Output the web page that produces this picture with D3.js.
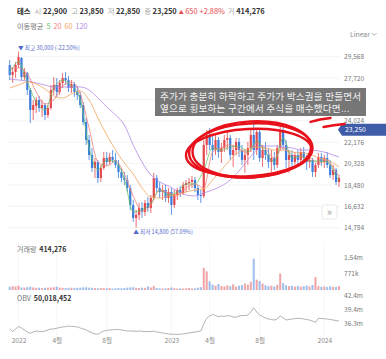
<!DOCTYPE html>
<html><head><meta charset="utf-8">
<script src="https://cdn.jsdelivr.net/npm/d3@7/dist/d3.min.js"></script>
<style>
body{margin:0;background:#fff;}
svg text{font-family:"Noto Sans CJK KR","Noto Sans",sans-serif;}
</style></head>
<body><svg id="chart" width="386" height="359"></svg>
<script>
// ---------- DATA (weekly candles) ----------
const firstWeek = '2021-12-13';
const lastWeek = '2024-02-05';
const openP = [28850,27990,28250,28850,29460,27810,28160,26690,24960,25310,25830,25130,25390,24530,25130,26690,27120,26520,27300,27730,27550,26860,27210,26520,26260,25390,23920,22370,21070,19950,20470,19080,19950,20810,20470,20900,20640,20210,19600,19080,18910,18220,16750,15630,15890,16490,16150,16920,16490,17350,19080,18220,17870,18050,17350,17870,16750,17610,18050,17790,18480,18650,18740,18910,18220,17610,17530,21940,22800,21940,21500,22370,21330,21680,22370,22540,21070,21500,22200,21500,20640,21070,21680,22800,21500,23060,20810,21500,21070,20470,20810,20210,21680,23230,21940,20640,21070,20470,21070,20640,21330,20810,20470,20640,19600,20210,20900,20470,20810,20210,19340,19780,18740];
const highP = [29280,28590,29110,30000,29540,28590,28250,26860,25830,26090,26170,25830,25570,25390,27120,27810,27730,27550,28160,28250,27900,27550,27380,27040,26520,25650,24270,22800,21680,20810,20640,20210,21330,21330,21250,21500,21250,20640,19950,19600,19340,18480,17180,16320,16920,17010,17180,17440,17610,19520,19340,18740,18480,18480,18220,18220,18050,18220,18390,18740,18910,19080,19260,19170,18480,18050,22370,23230,23410,22800,22970,22630,22110,22800,23060,22800,21940,22540,22540,21940,21500,22200,23230,23920,23410,23410,21940,22200,21680,21500,21330,21940,23670,23670,22370,21500,21500,21330,21500,21680,21760,21070,20900,20810,20380,21250,21250,21070,21330,20640,20210,19950,19340];
const lowP = [27550,27300,27730,28590,27550,27550,26260,23840,24100,24700,24790,24360,24100,24270,24960,26260,26090,26260,26860,27120,26520,26430,26090,25830,25130,23670,21940,20640,19600,19080,18650,18740,19780,20120,20210,20380,19950,19080,18740,18480,17870,16320,15280,14800,15450,15630,15800,16150,16060,17180,17870,17350,17180,17010,16920,15890,16490,17180,17440,17610,17870,18050,18220,17870,17180,16920,17350,21070,21500,20640,21070,20810,20380,21330,21500,20640,20040,21070,20900,20210,19520,20210,21330,20640,21070,20470,20040,20640,19950,19600,19780,19950,21500,21500,19950,19520,20040,20210,20120,20210,20470,19780,19950,19170,19170,19950,20120,19950,19950,19080,18910,18480,18310];
const closeP = [27990,28250,28850,29540,27810,28250,26690,24960,25390,25830,25130,25390,24530,25130,26690,27120,26520,27300,27730,27550,26860,27210,26520,26260,25390,23920,22370,21070,19950,20470,19080,19950,20810,20470,20900,20640,20210,19600,19080,18910,18220,16750,15630,15890,16490,16150,16920,16490,17350,19080,18220,17870,18050,17350,17870,16750,17610,18050,17790,18480,18650,18740,18910,18220,17610,17530,21940,22800,21940,21500,22370,21330,21680,22370,22540,21070,21500,22200,21500,20640,21070,21680,22800,21500,23060,20810,21500,21070,20470,20810,20210,21680,23230,21940,20640,21070,20470,21070,20640,21330,20810,20470,20640,19600,20210,20900,20470,20810,20210,19340,19780,18740,19080];
const volumeK = [150,180,160,200,120,110,130,150,120,100,110,90,100,110,120,130,150,110,100,90,100,110,90,100,110,120,130,110,100,90,80,100,90,80,90,70,80,90,80,90,110,120,130,100,90,110,100,170,120,180,90,80,70,80,90,120,80,70,80,70,80,90,70,80,110,130,1030,870,400,250,200,280,180,160,220,180,260,160,200,230,300,250,380,1460,480,420,300,220,180,200,160,240,770,320,220,180,200,160,190,150,180,200,160,230,600,180,150,160,140,170,150,140,180];
const obvM = [35.18,34.65,35.18,35.71,35.39,34.97,34.54,34.27,34.54,34.75,34.65,34.60,34.75,34.97,35.18,35.18,35.33,35.49,35.60,35.66,35.81,35.71,35.71,35.60,35.39,35.18,34.97,34.65,34.33,34.12,34.05,34.43,34.75,34.86,34.97,35.01,35.07,35.07,34.97,34.86,34.75,34.75,34.75,34.65,34.75,34.69,34.60,34.65,34.60,34.75,34.54,34.43,34.33,34.22,34.12,34.05,34.05,34.01,34.05,34.12,34.22,34.33,34.43,34.54,34.65,34.75,36.24,37.44,37.93,38.25,38.04,37.78,37.93,37.83,38.04,37.93,37.72,37.66,37.93,38.04,38.04,38.14,38.78,39.69,38.78,38.14,37.83,37.51,37.30,37.19,37.08,37.30,38.00,37.51,37.08,37.19,37.30,37.40,37.44,37.40,37.30,37.19,37.08,36.87,36.60,37.44,37.40,37.36,37.30,37.19,37.08,36.98,36.87];
// moving averages, read every third week
const ma5 = [28250,29110,27380,25650,24960,26860,27550,27040,25830,21680,19780,20640,20470,19000,16150,16320,16920,18050,17610,17870,18570,18570,19780,21680,21500,21760,21850,21330,22280,21330,20470,22540,20810,20990,20550,20550,20470,19260,18910];
const ma20 = [28590,28590,28070,26520,25480,25830,27040,27380,26340,23410,20470,20120,20550,19430,17530,16230,16750,18050,17790,17610,18220,18570,18220,21330,21680,21940,21590,21250,22110,21590,20810,21680,21070,20900,20810,20380,20550,19600,19260];
const ma60 = [26860,27120,27380,27210,26780,26170,26000,26340,26600,25830,24270,22800,21500,20380,19430,18220,17440,17350,17530,17610,17870,18050,18130,18910,19780,20640,21330,21590,21760,21680,21500,21500,21330,21250,21160,20810,20640,20210,20040];
const ma120 = [27640,27550,27470,27300,27120,26950,26950,26950,26950,26690,26000,25220,24530,23670,21940,20470,19340,18740,18390,17960,17610,17530,17790,18050,18390,18910,19690,20640,21500,21850,21850,21760,21680,21500,21500,21420,21250,20980,20900];
const priceTicks = [14784,16632,18480,20328,22176,24024,25872,27720,29568];
const volTicks = [771000,1540000];
const volTickLabels = ['771k','1.54m'];
const obvTicks = [36.3,39.35,42.4];
const obvTickLabels = ['36.3m','39.4m','42.4m'];
const monthTickDays = ['2022-01-03','2022-04-04','2022-08-01','2023-01-02','2023-04-03','2023-07-31','2024-01-01'];
const monthTickLabels = ['2022','4월','8월','2023','4월','8월','2024'];
const maNames = ['5','20','60','120'];
const header = {name:'테스', open:'22,900', high:'23,850', low:'22,850', close:'23,250', chg:'650', pct:'+2.88%', vol:'414,276'};
const lastPrice = 23250;
const maxInfo = {price:30000, text:'최고 30,000 (-22.50%)', day:'2022-01-03'};
const minInfo = {price:14800, text:'최저 14,800 (57.09%)', day:'2022-10-03'};
const noteLines = ['주가가 충분히 하락하고 주가가 박스권을 만들면서','옆으로 횡보하는 구간에서 주식을 매수했다면...'];
const boxDays = ['2023-02-13','2023-12-04']; // annotated sideways box
const boxPrices = [19080, 23840];
const obvLast = '50,018,452';

// ---------- SETUP ----------
const svg = d3.select('#chart');
const parse = d3.utcParse('%Y-%m-%d');
const fmt = d3.utcFormat('%Y-%m-%d');
const days = d3.utcMonday.range(parse(firstWeek), d3.utcDay.offset(parse(lastWeek),1)).map(fmt);
const maDays = d3.range(0, days.length-1, 3).map(i=>days[i]).concat([days[days.length-1]]);

const UP='#e5484d', DOWN='#3b7ddd';
const MA_COL=['#5fbf5f','#f2837b','#f4a55e','#b38ae6'];
const FONT='"Noto Sans CJK KR","Noto Sans",sans-serif';

const x = d3.scalePoint().domain(days).range([9.7, 339]);
const y = d3.scaleLinear().domain([14784, 29568]).range([227.7, 56.7]);
const yv = d3.scaleLinear().domain([0, 1540000]).range([290, 257]);
const yo = d3.scaleLinear().domain([36.3, 42.4]).range([323.7, 295]);

const candles = days.map((d,i)=>({d, o:openP[i], h:highP[i], l:lowP[i], c:closeP[i], v:volumeK[i]*1000, obv:obvM[i]}));

// ---------- HEADER ----------
const h1 = svg.append('text').attr('x',17).attr('y',14).attr('font-size',7.4).attr('fill','#333');
h1.append('tspan').attr('font-weight','bold').attr('fill','#222').text(header.name);
[['시',header.open],['고',header.high],['저',header.low],['종',header.close]].forEach(([k,v])=>{
  h1.append('tspan').attr('fill','#aaa').attr('dx',4).text(k);
  h1.append('tspan').attr('fill','#333').attr('font-weight','600').attr('dx',1.5).text(v);
});
h1.append('tspan').attr('fill',UP).attr('dx',2).attr('font-size',5).text('▲');
h1.append('tspan').attr('fill',UP).attr('dx',1.5).text(header.chg);
h1.append('tspan').attr('fill',UP).attr('dx',2).text(header.pct);
h1.append('tspan').attr('fill','#aaa').attr('dx',3).text('거');
h1.append('tspan').attr('fill','#333').attr('font-weight','600').attr('dx',1.5).text(header.vol);

const h2 = svg.append('text').attr('x',17).attr('y',29).attr('font-size',7.2).attr('fill','#777');
h2.append('tspan').text('이동평균');
maNames.forEach((n,i)=>h2.append('tspan').attr('dx',3).attr('fill',MA_COL[i]).text(n));

svg.append('text').attr('x',350).attr('y',36.5).attr('font-size',6.8).attr('fill','#888').text('Linear');
svg.append('path').attr('d','M372,33 l2.3,2.3 l2.3,-2.3').attr('fill','none').attr('stroke','#999').attr('stroke-width',0.8);

// ---------- MAIN PRICE PANEL ----------
const gGrid = svg.append('g');
gGrid.selectAll('line').data(priceTicks).join('line')
  .attr('x1',8).attr('x2',340).attr('y1',d=>y(d)).attr('y2',d=>y(d))
  .attr('stroke','#efefef').attr('stroke-width',0.7);

const yAxis = d3.axisRight(y).tickValues(priceTicks).tickFormat(d3.format(',')).tickSize(0).tickPadding(0);
const gy = svg.append('g').attr('transform','translate(344,0)').call(yAxis);
gy.select('.domain').remove();
gy.selectAll('text').attr('font-size',6.6).attr('fill','#777').attr('font-family',FONT);

const gC = svg.append('g');
gC.selectAll('line.wick').data(candles).join('line').attr('class','wick')
  .attr('x1',d=>x(d.d)).attr('x2',d=>x(d.d)).attr('y1',d=>y(d.h)).attr('y2',d=>y(d.l))
  .attr('stroke',d=>d.c>=d.o?UP:DOWN).attr('stroke-width',0.8);
gC.selectAll('rect').data(candles).join('rect')
  .attr('x',d=>x(d.d)-1.1).attr('width',2.2)
  .attr('y',d=>y(Math.max(d.o,d.c))).attr('height',d=>Math.max(0.8, Math.abs(y(d.o)-y(d.c))))
  .attr('fill',d=>d.c>=d.o?UP:DOWN);

[ma120, ma60, ma20, ma5].forEach((arr,k)=>{
  const col = MA_COL[3-k];
  svg.append('path').datum(arr)
    .attr('d', d3.line().x((d,i)=>x(maDays[i])).y(d=>y(d)).curve(d3.curveMonotoneX))
    .attr('fill','none').attr('stroke',col).attr('stroke-width',0.9).attr('opacity',k===3?0.8:0.9);
});

// max / min markers
svg.append('text').attr('x',x(maxInfo.day)-0.5).attr('y',y(maxInfo.price)-1.5).attr('font-size',5.6).attr('fill','#5468c8')
  .text('▼ '+maxInfo.text);
svg.append('text').attr('x',x(minInfo.day)).attr('y',y(minInfo.price)+6.5).attr('font-size',5.6).attr('fill','#5468c8')
  .text('▲ '+minInfo.text);

// current price tag
const ty = y(lastPrice);
svg.append('path').attr('d',`M338,${ty} L342,${ty-6} L386,${ty-6} L386,${ty+6} L342,${ty+6} Z`).attr('fill','#3f5ca8');
svg.append('text').attr('x',345).attr('y',ty+2.4).attr('font-size',6.8).attr('fill','#fff').text(d3.format(',')(lastPrice));

// annotation box
svg.append('rect').attr('x',155).attr('y',88).attr('width',211).attr('height',28).attr('fill','#6d6d6d').attr('opacity',0.93);
noteLines.forEach((t,i)=>svg.append('text').attr('x',160).attr('y',99.5+i*12.5).attr('font-size',9.6)
  .attr('fill','#f2f2f2').attr('letter-spacing',0.2).text(t));

// red hand-drawn ellipse around the sideways box
const ex0 = x(boxDays[0]), ex1 = x(boxDays[1]);
const ey0 = y(boxPrices[1]), ey1 = y(boxPrices[0]);
const ecx = (ex0+ex1)/2, ecy = (ey0+ey1)/2, erx = (ex1-ex0)/2, ery = (ey1-ey0)/2;
const gE = svg.append('g').attr('transform',`rotate(-3 ${ecx} ${ecy})`);
[[0,0,1,0.98],[-2,2,1.02,0.86],[1,-1,0.96,1.02]].forEach(([dx,dy,sx,sy])=>{
  gE.append('ellipse').attr('cx',ecx+dx).attr('cy',ecy+dy).attr('rx',erx*sx).attr('ry',ery*sy)
    .attr('fill','none').attr('stroke','#e8111b').attr('stroke-width',2.4);
});
svg.append('path').attr('d',`M${ex1-2},${ey0-1} q9,-3 20,-4`).attr('fill','none').attr('stroke','#e8111b').attr('stroke-width',2.4).attr('stroke-linecap','round');
svg.append('path').attr('d',`M${ex1+11},${ey0+4} q10,-2 21,-3`).attr('fill','none').attr('stroke','#e8111b').attr('stroke-width',2.4).attr('stroke-linecap','round');

// >> button
svg.append('rect').attr('x',322).attr('y',205).attr('width',15).attr('height',14).attr('rx',2).attr('fill','#fff').attr('stroke','#e3e3e3').attr('stroke-width',0.8);
svg.append('text').attr('x',329.5).attr('y',215.5).attr('text-anchor','middle').attr('font-size',11).attr('fill','#999').text('»');

// ---------- VOLUME PANEL ----------
const vGrid = svg.append('g');
vGrid.selectAll('line').data(monthTickDays).join('line')
  .attr('x1',d=>x(d)).attr('x2',d=>x(d)).attr('y1',242).attr('y2',336).attr('stroke','#f3f3f3').attr('stroke-width',0.7);
const vl = svg.append('text').attr('x',17).attr('y',252).attr('font-size',7).attr('fill','#777');
vl.append('tspan').text('거래량');
vl.append('tspan').attr('dx',3).attr('fill','#333').attr('font-weight','bold').text(header.vol);
svg.append('g').selectAll('rect').data(candles).join('rect')
  .attr('x',d=>x(d.d)-1).attr('width',2).attr('y',d=>yv(d.v)).attr('height',d=>yv(0)-yv(d.v))
  .attr('fill',d=>d.c>=d.o?UP:DOWN).attr('opacity',0.5);
const gv = svg.append('g').attr('transform','translate(344,0)')
  .call(d3.axisRight(yv).tickValues(volTicks).tickFormat((d,i)=>volTickLabels[i]).tickSize(0).tickPadding(0));
gv.select('.domain').remove();
gv.selectAll('text').attr('font-size',6.6).attr('fill','#777').attr('font-family',FONT);

// ---------- OBV PANEL ----------
const ol = svg.append('text').attr('x',17).attr('y',301).attr('font-size',7).attr('fill','#777');
ol.append('tspan').text('OBV');
ol.append('tspan').attr('dx',3).attr('fill','#333').attr('font-weight','bold').text(obvLast);
svg.append('path').datum(candles)
  .attr('d', d3.line().x(d=>x(d.d)).y(d=>yo(d.obv)))
  .attr('fill','none').attr('stroke','#a0a0a0').attr('stroke-width',0.8);
const go = svg.append('g').attr('transform','translate(344,0)')
  .call(d3.axisRight(yo).tickValues(obvTicks).tickFormat((d,i)=>obvTickLabels[i]).tickSize(0).tickPadding(0));
go.select('.domain').remove();
go.selectAll('text').attr('font-size',6.6).attr('fill','#777').attr('font-family',FONT);

// ---------- X AXIS ----------
const gx = svg.append('g').attr('transform','translate(0,338)')
  .call(d3.axisBottom(x).tickValues(monthTickDays).tickFormat((d,i)=>monthTickLabels[i]).tickSize(0).tickPadding(0));
gx.select('.domain').remove();
gx.selectAll('text').attr('font-size',6.6).attr('fill','#888').attr('dy','0.71em').attr('font-family',FONT);
</script></body></html>
